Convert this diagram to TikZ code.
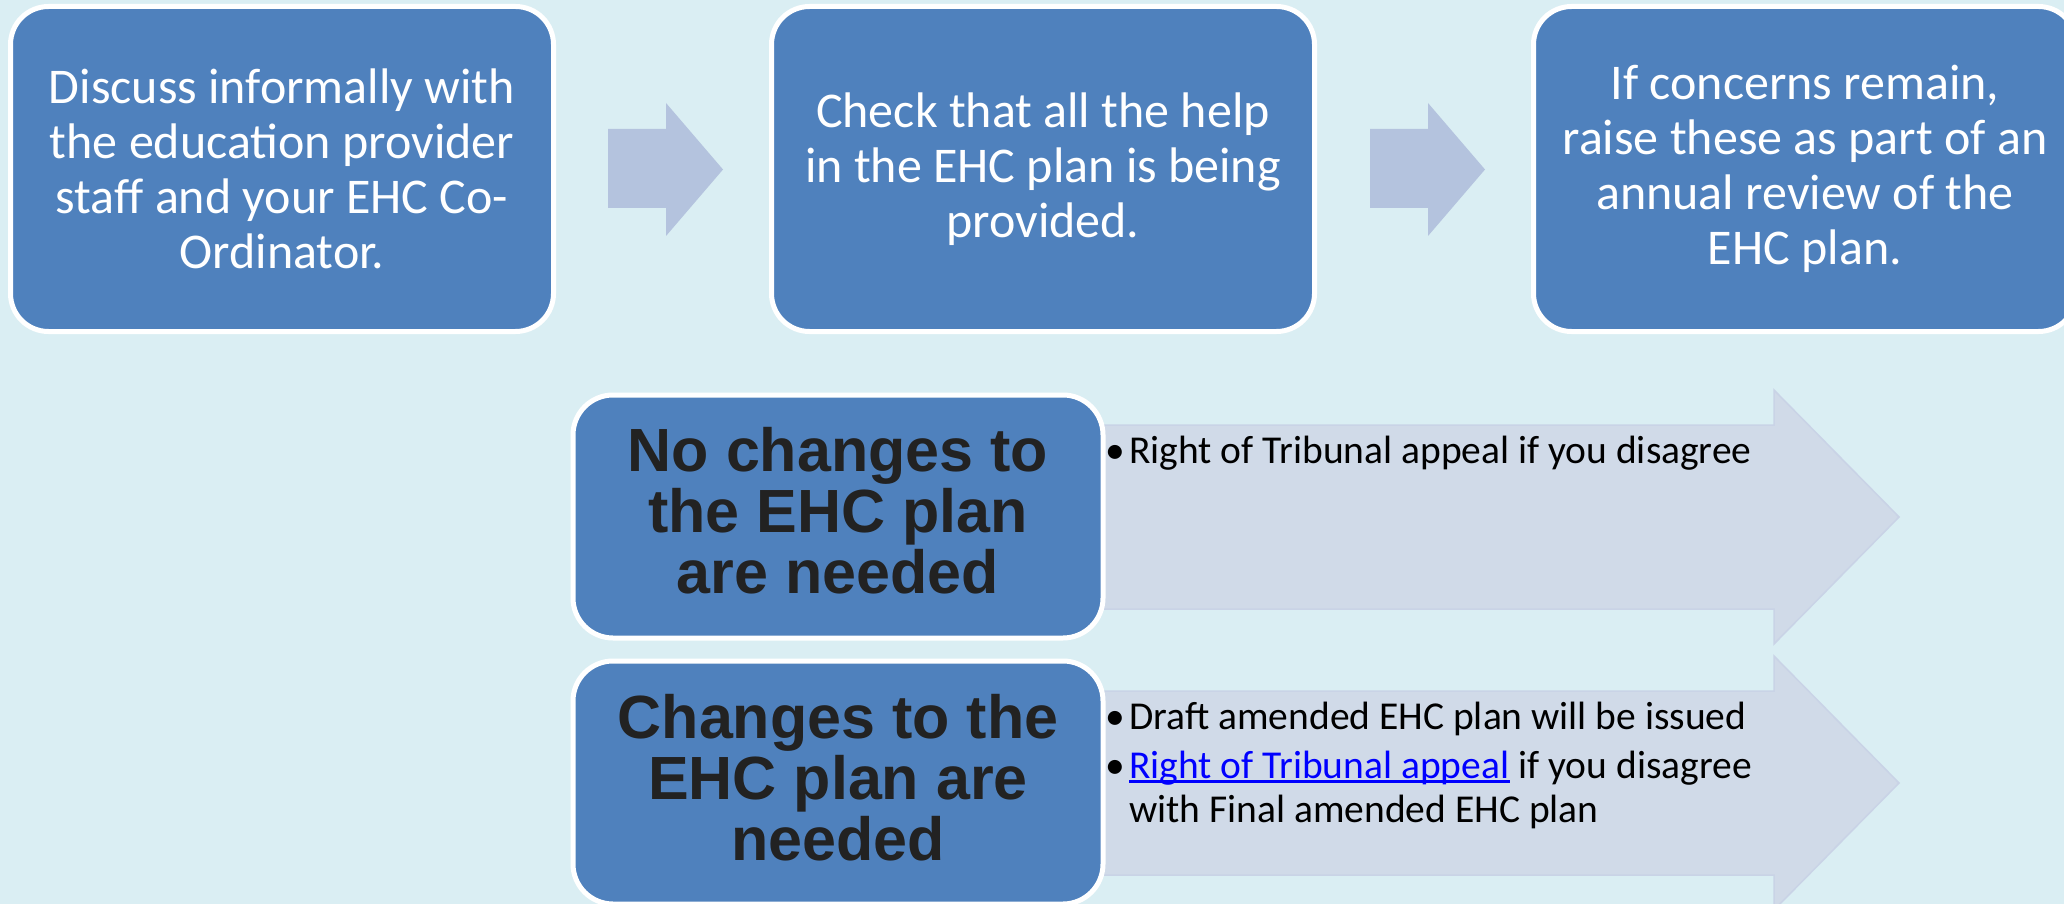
\documentclass[tikz,border=0pt]{standalone}
\usepackage{fontspec}
\setmainfont{Carlito}
\newfontfamily\arialfont{Liberation Sans}
\definecolor{bgblue}{HTML}{DAEEF3}
\definecolor{boxblue}{HTML}{4F81BD}
\definecolor{smallarrow}{HTML}{B4C3DE}
\definecolor{bigarrow}{HTML}{D0DAE8}
\definecolor{bigarrowedge}{HTML}{C9D3E6}
\definecolor{darktext}{HTML}{222222}
\definecolor{linkblue}{HTML}{0000FF}
\newcommand\myulink[1]{\setbox0\hbox{#1}\rlap{\rule[-5pt]{\wd0}{2.6pt}}\box0}
\begin{document}
\begin{tikzpicture}[x=1pt,y=-1pt,
  topbox/.style={draw=white, line width=5pt, fill=boxblue, rounded corners=38pt,
    minimum width=543pt, minimum height=325pt, inner sep=0pt, text=white,
    align=center, font=\fontsize{50}{55}\selectfont},
  lowbox/.style={draw=white, line width=5pt, fill=boxblue, rounded corners=40pt,
    minimum width=530pt, minimum height=243pt, inner sep=0pt},
  lowtext/.style={inner sep=0pt, text=darktext, align=center,
    font=\arialfont\bfseries\fontsize{61}{61}\selectfont},
  flowarrow/.style={fill=smallarrow},
  bandarrow/.style={fill=bigarrow, draw=bigarrowedge, line width=1.5pt},
  bullettext/.style={anchor=base west, inner sep=0pt, text=black,
    font=\fontsize{39.5}{43}\selectfont}]
\useasboundingbox (0,0) rectangle (2064,904);
\fill[bgblue] (0,0) rectangle (2064,904);
\clip (0,0) rectangle (2064,904);

% big band arrows (behind the lower boxes)
\path[bandarrow] (838,425) -- (1774,425) -- (1774,390) -- (1899,517) -- (1774,644) -- (1774,609) -- (838,609) -- cycle;
\path[bandarrow] (838,691) -- (1774,691) -- (1774,656) -- (1899,783) -- (1774,910) -- (1774,875) -- (838,875) -- cycle;

% top row boxes
\node[topbox] (b1) at (282,169) {Discuss informally with\\the education provider\\staff and your EHC Co-\\Ordinator.};
\node[topbox] (b2) at (1043,169) {Check that all the help\\in the EHC plan is being\\provided.};
\node[topbox] (b3) at (1805,169) {If concerns remain,\\raise these as part of an\\annual review of the\\EHC plan.};

% small flow arrows
\path[flowarrow] (608,129) -- (666,129) -- (666,103) -- (723,169.5) -- (666,236) -- (666,208) -- (608,208) -- cycle;
\path[flowarrow] (1370,129) -- (1428,129) -- (1428,103) -- (1485,169.5) -- (1428,236) -- (1428,208) -- (1370,208) -- cycle;

% lower boxes
\node[lowbox] (n1) at (838,516.5) {};
\node[lowtext] (n1t) at ([yshift=6pt]n1.center) {No changes to\\the EHC plan\\are needed};
\node[lowbox] (n2) at (838,782.5) {};
\node[lowtext] (n2t) at ([yshift=5pt]n2.center) {Changes to the\\EHC plan are\\needed};

% bullet texts
\node[bullettext] (t1) at (1105,463) {\makebox[24pt][l]{•}Right of Tribunal appeal if you disagree};
\node[bullettext] (t2) at (1105,729) {\makebox[24pt][l]{•}Draft amended EHC plan will be issued};
\node[bullettext] (t3) at (1105,778) {\makebox[24pt][l]{•}{\color{linkblue}\myulink{Right of Tribunal appeal}} if you disagree};
\node[bullettext] (t4) at (1129,822) {with Final amended EHC plan};
\end{tikzpicture}
\end{document}
